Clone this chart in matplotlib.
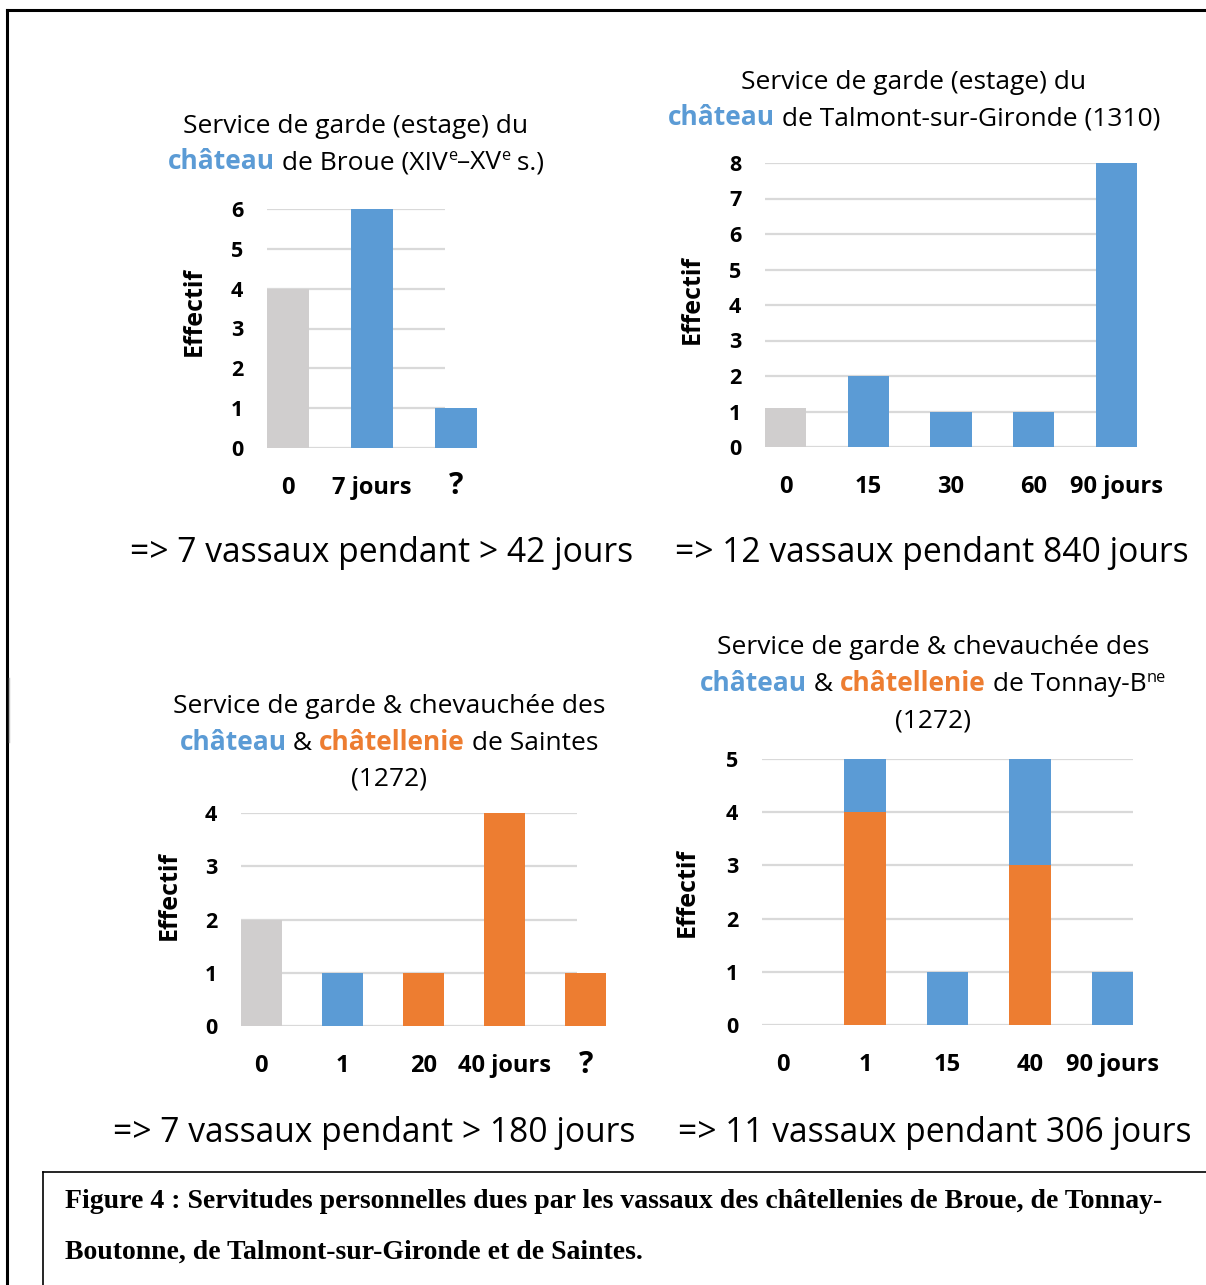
import matplotlib
matplotlib.use("Agg")
import matplotlib.pyplot as plt
from matplotlib.lines import Line2D
import numpy as np

plt.rcParams['font.family'] = ['Open Sans', 'DejaVu Sans']

BLUE = '#5B9BD5'
ORANGE = '#ED7D31'
GREY = '#D0CECE'
GRID = '#D9D9D9'

# --- data ---
broue_cats = ['0', '7 jours', '?']
broue_zero = [4, 0, 0]
broue_chateau = [0, 6, 1]
broue_chatellenie = [0, 0, 0]

talmont_cats = ['0', '15', '30', '60', '90 jours']
talmont_zero = [1.1, 0, 0, 0, 0]
talmont_chateau = [0, 2, 1, 1, 8]
talmont_chatellenie = [0, 0, 0, 0, 0]

saintes_cats = ['0', '1', '20', '40 jours', '?']
saintes_zero = [2, 0, 0, 0, 0]
saintes_chateau = [0, 1, 0, 0, 0]
saintes_chatellenie = [0, 0, 1, 4, 1]

tonnay_cats = ['0', '1', '15', '40', '90 jours']
tonnay_zero = [0, 0, 0, 0, 0]
tonnay_chateau = [0, 1, 1, 2, 1]
tonnay_chatellenie = [0, 4, 0, 3, 0]

W, H = 1206, 1285
fig = plt.figure(figsize=(W / 100, H / 100), dpi=100)
renderer = fig.canvas.get_renderer()


def fx(x):
    return x / W


def fy(y):
    return 1 - y / H


def rich_line(cx, base, parts, size):
    # parts: (text, color, bold, scale, rise_px)
    arts = []
    total = 0
    for txt, col, bold, sc, rise in parts:
        t = fig.text(0, 0, txt, color=col, fontsize=size * sc,
                     fontweight='bold' if bold else 'normal', va='baseline', ha='left')
        w = t.get_window_extent(renderer).width
        arts.append((t, w, rise))
        total += w
    x = cx - total / 2
    for t, w, rise in arts:
        t.set_position((fx(x), fy(base - rise)))
        x += w


def chart(left, right, top, bottom, cats, zero, chateau, chatellenie, ymax, grid_end,
          ylab_x, ylab_y):
    ax = fig.add_axes([fx(left), fy(bottom), (right - left) / W, (bottom - top) / H])
    x = np.arange(len(cats))
    ax.set_xlim(-0.25, len(cats) - 0.75)
    ax.set_ylim(0, ymax)
    ax.hlines(np.arange(0, ymax + 1), -0.25, grid_end, color=GRID, lw=1.6, zorder=0)
    ax.bar(x, zero, 0.5, color=GREY, zorder=2)
    ax.bar(x, chatellenie, 0.5, color=ORANGE, zorder=2)
    ax.bar(x, chateau, 0.5, bottom=chatellenie, color=BLUE, zorder=2)
    for s in ax.spines.values():
        s.set_visible(False)
    ax.set_yticks(np.arange(0, ymax + 1))
    ax.set_yticklabels([str(i) for i in range(ymax + 1)], fontsize=15.5, fontweight='bold')
    ax.set_xticks(x)
    ax.set_xticklabels(cats, fontsize=17, fontweight='bold')
    for lab in ax.get_xticklabels():
        if lab.get_text() == '?':
            lab.set_fontsize(22)
            lab.set_y(0.02)
    ax.tick_params(length=0)
    ax.tick_params(axis='y', pad=17)
    ax.tick_params(axis='x', pad=20)
    ax.set_ylabel('Effectif', fontsize=18, fontweight='bold')
    ax.yaxis.set_label_coords((ylab_x - left) / (right - left),
                              (bottom - ylab_y) / (bottom - top))
    return ax


chart(267, 477, 209, 448, broue_cats, broue_zero, broue_chateau, broue_chatellenie,
      6, 1.87, 207, 311)
chart(765, 1137, 163, 447, talmont_cats, talmont_zero, talmont_chateau, talmont_chatellenie,
      8, 4.25, 705, 300)
chart(241, 606, 813, 1026, saintes_cats, saintes_zero, saintes_chateau, saintes_chatellenie,
      4, 3.89, 182, 895)
chart(762, 1133, 759, 1025, tonnay_cats, tonnay_zero, tonnay_chateau, tonnay_chatellenie,
      5, 4.25, 700, 892)

TS = 19
K = 'black'
rich_line(356, 133, [('Service de garde (estage) du', K, False, 1, 0)], TS)
rich_line(356, 169, [('château', BLUE, True, 1, 0), (' de Broue (XIV', K, False, 1, 0),
                     ('e', K, False, 0.62, 9), ('–XV', K, False, 1, 0),
                     ('e', K, False, 0.62, 9), (' s.)', K, False, 1, 0)], TS)

rich_line(914, 89, [('Service de garde (estage) du', K, False, 1, 0)], TS)
rich_line(914, 125, [('château', BLUE, True, 1, 0),
                     (' de Talmont-sur-Gironde (1310)', K, False, 1, 0)], TS)

rich_line(389, 713, [('Service de garde & chevauchée des', K, False, 1, 0)], TS)
rich_line(389, 750, [('château', BLUE, True, 1, 0), (' & ', K, False, 1, 0),
                     ('châtellenie', ORANGE, True, 1, 0), (' de Saintes', K, False, 1, 0)], TS)
rich_line(389, 786, [('(1272)', K, False, 1, 0)], TS)

rich_line(933, 654, [('Service de garde & chevauchée des', K, False, 1, 0)], TS)
rich_line(933, 691, [('château', BLUE, True, 1, 0), (' & ', K, False, 1, 0),
                     ('châtellenie', ORANGE, True, 1, 0), (' de Tonnay-B', K, False, 1, 0),
                     ('ne', K, False, 0.62, 9)], TS)
rich_line(933, 727, [('(1272)', K, False, 1, 0)], TS)

RS = 24.2
rich_line(382, 562, [('=> 7 vassaux pendant > 42 jours', K, False, 1, 0)], RS)
rich_line(932, 562, [('=> 12 vassaux pendant 840 jours', K, False, 1, 0)], RS)
rich_line(374, 1142, [('=> 7 vassaux pendant > 180 jours', K, False, 1, 0)], RS)
rich_line(935, 1142, [('=> 11 vassaux pendant 306 jours', K, False, 1, 0)], RS)

# frames
fig.add_artist(Line2D([fx(7), fx(7)], [fy(10), fy(H + 5)], color='black', lw=2.2))
fig.add_artist(Line2D([fx(7), fx(W + 5)], [fy(10), fy(10)], color='black', lw=2.2))
fig.add_artist(Line2D([fx(8.5), fx(8.5)], [fy(678), fy(742)], color='#BBBBBB', lw=1))
fig.add_artist(Line2D([fx(43), fx(43)], [fy(1172), fy(H + 5)], color='black', lw=1.2))
fig.add_artist(Line2D([fx(43), fx(W + 5)], [fy(1172), fy(1172)], color='black', lw=1.2))

cap_font = ['Liberation Serif', 'DejaVu Serif']
fig.text(fx(65), fy(1201),
         'Figure 4 : Servitudes personnelles dues par les vassaux des châtellenies de Broue, de Tonnay-',
         family=cap_font, fontweight='bold', fontsize=20, va='center', ha='left')
fig.text(fx(65), fy(1252), 'Boutonne, de Talmont-sur-Gironde et de Saintes.',
         family=cap_font, fontweight='bold', fontsize=20, va='center', ha='left')

fig.savefig('out.png', dpi=100)
